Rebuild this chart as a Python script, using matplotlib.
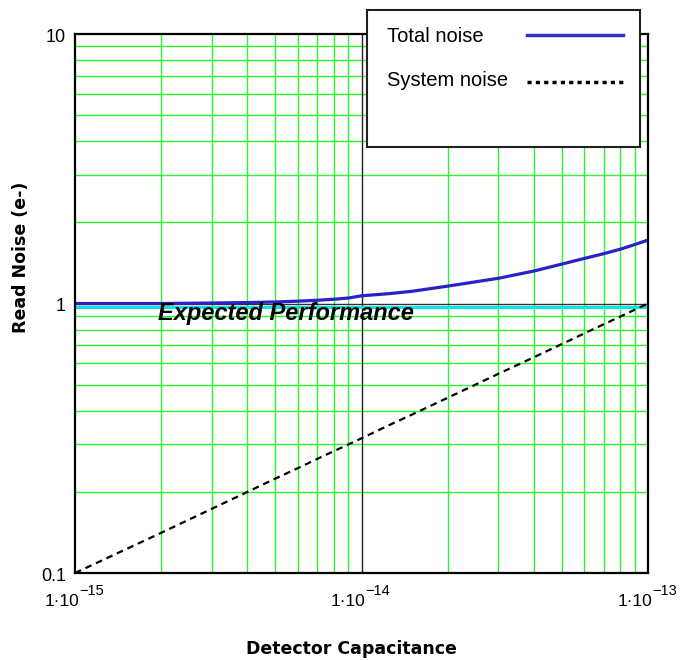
import numpy as np
import matplotlib.pyplot as plt
from matplotlib.lines import Line2D
from matplotlib.patches import Rectangle

plt.rcParams['font.family'] = ['Liberation Sans', 'DejaVu Sans']

# detector capacitance (F) and noise (electrons)
cap = [1e-15, 2e-15, 3e-15, 4e-15, 5e-15, 6e-15, 7e-15, 8e-15, 9e-15, 1e-14,
       1.25e-14, 1.5e-14, 2e-14, 3e-14, 4e-14, 5e-14, 6e-14, 7e-14, 8e-14, 9e-14, 1e-13]
total_noise = [1.0, 1.0, 1.004, 1.008, 1.013, 1.02, 1.028, 1.037, 1.048, 1.068,
               1.088, 1.11, 1.16, 1.24, 1.32, 1.40, 1.47, 1.53, 1.59, 1.655, 1.72]
system_noise = [0.1, 0.141, 0.173, 0.2, 0.224, 0.245, 0.265, 0.283, 0.3, 0.316,
                0.354, 0.387, 0.447, 0.548, 0.632, 0.707, 0.775, 0.837, 0.894, 0.949, 1.0]
expected = 0.973
series_names = ['Total noise', 'System noise']
xticks = [1e-15, 1e-14, 1e-13]
xtick_mant = ['1\u00b710', '1\u00b710', '1\u00b710']
xtick_exp = ['\u221215', '\u221214', '\u221213']
yticks = [0.1, 1, 10]
yticklabels = ['0.1', '1', '10']

fig = plt.figure(figsize=(6.89, 6.60), dpi=100)
ax = fig.add_axes([75/689, 87/660, 573/689, 539/660])
ax.set_xscale('log')
ax.set_yscale('log')
ax.set_xlim(1e-15, 1e-13)
ax.set_ylim(0.1, 10)

# grid: green minor lines, dark decade lines
green = '#2df52d'
for dec in [1e-15, 1e-14]:
    for k in range(2, 10):
        ax.axvline(k*dec, color=green, lw=1.0, zorder=1)
for dec in [0.1, 1]:
    for k in range(2, 10):
        ax.axhline(k*dec, color=green, lw=1.0, zorder=1)
ax.axvline(1e-14, color='#202020', lw=1.0, zorder=1)
ax.axhline(1, color='#303030', lw=1.0, zorder=1)

ax.axhline(expected, color='#00e8e8', lw=2.2, zorder=2)
ax.plot(cap, total_noise, color='#2a22c8', lw=2.3, zorder=3)
ax.plot(cap, system_noise, color='black', lw=1.6, ls=(0, (3, 2.2)), zorder=3)

ax.text(1.95e-15, 0.915, 'Expected Performance', fontsize=17, fontweight='bold',
        fontstyle='italic', ha='left', va='center', zorder=4)

# tick labels written by hand: mantissa + raised exponent on x
ax.set_xticks(xticks)
ax.set_xticklabels([])
ax.set_yticks(yticks)
ax.set_yticklabels([])
for xt, m, e in zip(xticks, xtick_mant, xtick_exp):
    ax.annotate(m, xy=(xt, 0), xycoords=('data', 'axes fraction'),
                xytext=(3, -23.8), textcoords='offset points',
                ha='right', va='baseline', fontsize=12.5, annotation_clip=False)
    ax.annotate(e, xy=(xt, 0), xycoords=('data', 'axes fraction'),
                xytext=(3, -15.8), textcoords='offset points',
                ha='left', va='baseline', fontsize=10.5, annotation_clip=False)
for yt, lab in zip(yticks, yticklabels):
    ax.annotate(lab, xy=(0, yt), xycoords=('axes fraction', 'data'),
                xytext=(-6.5, -2.2), textcoords='offset points',
                ha='right', va='center', fontsize=13, annotation_clip=False)
ax.minorticks_off()
ax.tick_params(length=0)
for s in ax.spines.values():
    s.set_linewidth(1.6)
    s.set_zorder(5)

fig.text(21/689, 1 - 257/660, 'Read Noise (e-)', fontsize=12.5, fontweight='bold',
         family='DejaVu Sans', rotation=90, ha='center', va='center')
fig.text(351/689, 1 - 649/660, 'Detector Capacitance', fontsize=12.5, fontweight='bold',
         family='DejaVu Sans', ha='center', va='center')

# legend box sitting over the top of the plot
fig.add_artist(Rectangle((367/689, 1 - 147/660), 273/689, 137/660, transform=fig.transFigure,
                         facecolor='white', edgecolor='#202020', lw=1.5, zorder=10))
fig.text(387/689, 1 - 37/660, series_names[0], fontsize=14.5, va='center', zorder=11)
fig.text(387/689, 1 - 80/660, series_names[1], fontsize=14.5, va='center', zorder=11)
fig.add_artist(Line2D([527/689, 623/689], [1 - 35/660, 1 - 35/660], transform=fig.transFigure,
                      color='#3333cc', lw=2.5, zorder=11))
fig.add_artist(Line2D([527/689, 623/689], [1 - 82/660, 1 - 82/660], transform=fig.transFigure,
                      color='black', lw=2.5, ls=(0, (1.2, 1.2)), zorder=11))

fig.savefig('out.png', dpi=100)
